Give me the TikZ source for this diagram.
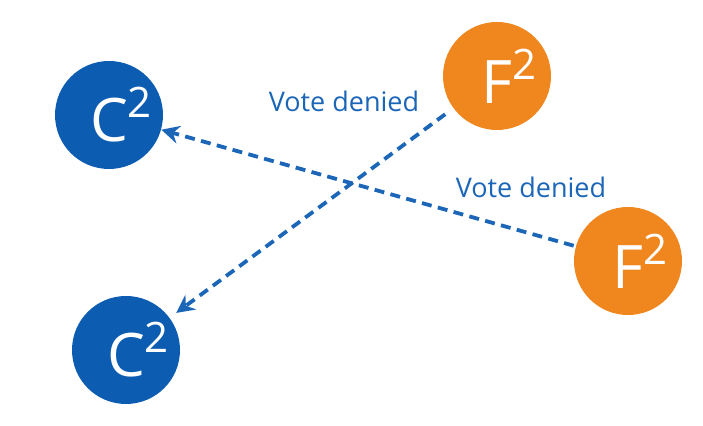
\documentclass[tikz,border=0pt]{standalone}
\usepackage{fontspec}
\setmainfont{Open Sans}
\usetikzlibrary{arrows.meta}
\definecolor{candblue}{RGB}{12,92,178}
\definecolor{labelblue}{RGB}{28,102,184}
\definecolor{followorange}{RGB}{239,134,30}

\begin{document}
\begin{tikzpicture}[x=0.5pt,y=-0.5pt,
    candidate/.style={circle,fill=candblue,minimum size=54pt,inner sep=0pt,text=white,font=\fontsize{30}{30}\selectfont},
    follower/.style={circle,fill=followorange,minimum size=54pt,inner sep=0pt,text=white,font=\fontsize{30}{30}\selectfont},
    votelabel/.style={text=labelblue,font=\fontsize{13.5}{15}\selectfont,inner sep=0pt},
    denied/.style={draw=labelblue,line width=1.9pt,dash pattern=on 5pt off 3.2pt,-{Stealth[length=9pt,width=9pt,inset=3pt]}}]
    \useasboundingbox (0,0) rectangle (703,426);
    \node[candidate] (c1) at (109,115) {C\rlap{\raisebox{12pt}{\fontsize{21}{21}\selectfont 2}}};
    \node[candidate] (c2) at (126,350) {C\rlap{\raisebox{12pt}{\fontsize{21}{21}\selectfont 2}}};
    \node[follower] (f1) at (497,76) {F\rlap{\raisebox{12pt}{\fontsize{21}{21}\selectfont 2}}};
    \node[follower] (f2) at (628,261) {F\rlap{\raisebox{12pt}{\fontsize{21}{21}\selectfont 2}}};
    \node[votelabel] (v1) at (344,101) {Vote denied};
    \node[votelabel] (v2) at (531,187) {Vote denied};
    \draw[denied,shorten <=1pt] (f2) -- (c1);
    \draw[denied,shorten <=5pt,shorten >=4pt] (f1) -- (c2);
\end{tikzpicture}
\end{document}
